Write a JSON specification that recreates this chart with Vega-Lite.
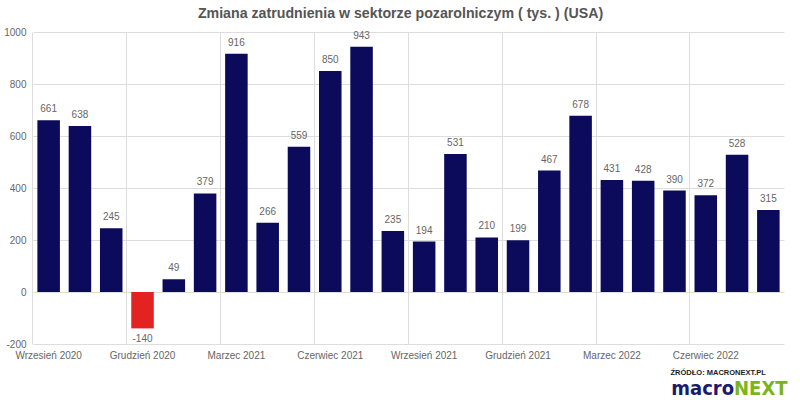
{
  "$schema": "https://vega.github.io/schema/vega-lite/v6.json",
  "autosize": "none",
  "width": 751,
  "height": 312,
  "padding": {"left": 33, "top": 32, "right": 16, "bottom": 56},
  "background": "white",
  "config": {
    "view": {"stroke": null},
    "font": "Liberation Sans",
    "locale": {"number": {"decimal": ".", "thousands": "", "grouping": [3], "currency": ["$", ""], "minus": "-"}},
    "axis": {"labelFont": "Liberation Sans", "labelColor": "#666666", "labelFontSize": 10, "grid": true, "gridColor": "#dddddd", "gridWidth": 1, "domain": false, "ticks": false}
  },
  "title": {"text": "Zmiana zatrudnienia w sektorze pozarolniczym ( tys. ) (USA)", "fontSize": 14.2, "fontWeight": "bold", "color": "#555555", "font": "Liberation Sans", "anchor": "middle", "dx": -8, "offset": 6},
  "data": {"values": [
    {"month": "Wrzesień 2020", "value": 661},
    {"month": "Październik 2020", "value": 638},
    {"month": "Listopad 2020", "value": 245},
    {"month": "Grudzień 2020", "value": -140},
    {"month": "Styczeń 2021", "value": 49},
    {"month": "Luty 2021", "value": 379},
    {"month": "Marzec 2021", "value": 916},
    {"month": "Kwiecień 2021", "value": 266},
    {"month": "Maj 2021", "value": 559},
    {"month": "Czerwiec 2021", "value": 850},
    {"month": "Lipiec 2021", "value": 943},
    {"month": "Sierpień 2021", "value": 235},
    {"month": "Wrzesień 2021", "value": 194},
    {"month": "Październik 2021", "value": 531},
    {"month": "Listopad 2021", "value": 210},
    {"month": "Grudzień 2021", "value": 199},
    {"month": "Styczeń 2022", "value": 467},
    {"month": "Luty 2022", "value": 678},
    {"month": "Marzec 2022", "value": 431},
    {"month": "Kwiecień 2022", "value": 428},
    {"month": "Maj 2022", "value": 390},
    {"month": "Czerwiec 2022", "value": 372},
    {"month": "Lipiec 2022", "value": 528},
    {"month": "Sierpień 2022", "value": 315}
  ]},
  "encoding": {
    "x": {"field": "month", "type": "nominal", "sort": null,
      "scale": {"paddingInner": 0.28, "paddingOuter": 0.14},
      "axis": {"title": null, "labelAngle": 0, "grid": true, "bandPosition": -0.2, "labelPadding": 6,
        "values": ["Wrzesień 2020", "Grudzień 2020", "Marzec 2021", "Czerwiec 2021", "Wrzesień 2021", "Grudzień 2021", "Marzec 2022", "Czerwiec 2022"]}},
    "y": {"field": "value", "type": "quantitative",
      "scale": {"domain": [-200, 1000], "nice": false},
      "axis": {"title": null, "format": "d", "values": [-200, 0, 200, 400, 600, 800, 1000], "labelPadding": 7}}
  },
  "layer": [
    {"mark": {"type": "bar"},
     "encoding": {"color": {"condition": {"test": "datum.value < 0", "value": "#e32322"}, "value": "#0c0b5b"}}},
    {"transform": [{"filter": "datum.value >= 0"}],
     "mark": {"type": "text", "baseline": "bottom", "dy": -6, "fontSize": 10, "color": "#666666"},
     "encoding": {"text": {"field": "value", "type": "quantitative", "format": "d"}}},
    {"transform": [{"filter": "datum.value < 0"}],
     "mark": {"type": "text", "baseline": "top", "dy": 6, "fontSize": 10, "color": "#666666"},
     "encoding": {"text": {"field": "value", "type": "quantitative", "format": "d"}}},
    {"transform": [{"filter": "datum.month == 'Maj 2022'"}],
     "mark": {"type": "text", "text": "ŹRÓDŁO: MACRONEXT.PL", "align": "left", "baseline": "middle", "fontSize": 7.5, "fontWeight": "bold", "color": "#222222", "dx": -4},
     "encoding": {"y": {"datum": -312}}},
    {"transform": [{"filter": "datum.month == 'Lipiec 2022'"}],
     "mark": {"type": "text", "text": "macro", "align": "right", "baseline": "middle", "fontSize": 20, "fontWeight": "bold", "color": "#1a1a6e", "font": "DejaVu Sans Condensed", "dx": -3},
     "encoding": {"y": {"datum": -372}}},
    {"transform": [{"filter": "datum.month == 'Lipiec 2022'"}],
     "mark": {"type": "text", "text": "NEXT", "align": "left", "baseline": "middle", "fontSize": 20, "fontWeight": "bold", "color": "#7ab51d", "font": "DejaVu Sans Condensed", "dx": -3},
     "encoding": {"y": {"datum": -372}}}
  ]
}
